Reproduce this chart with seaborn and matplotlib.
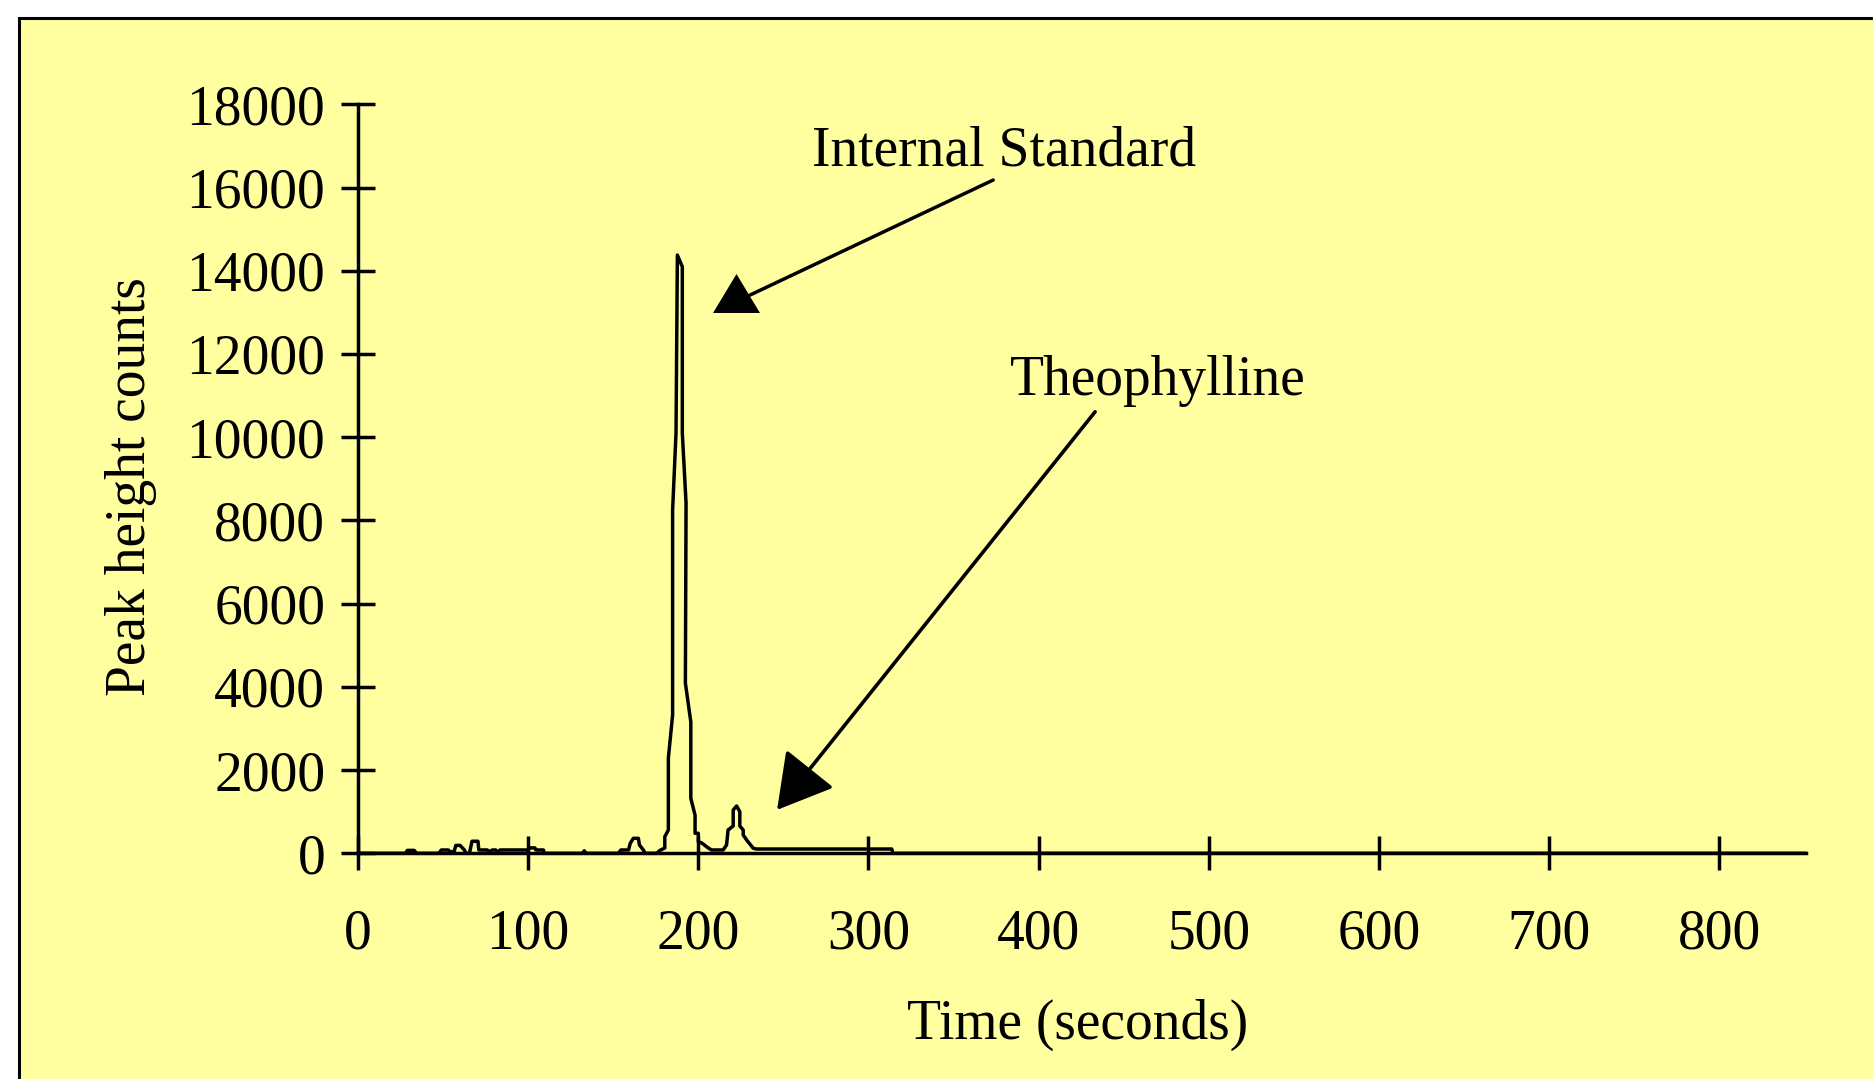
import matplotlib
matplotlib.use("Agg")
import matplotlib.pyplot as plt
from matplotlib.patches import Rectangle
import seaborn as sns
import pandas as pd

# ---------------- data ----------------
time_s = [0, 28, 29, 33, 34.5,
          47.5, 49, 53, 54, 56.5, 57.5, 60, 62.5, 63.5,
          65.5, 67, 70.5, 71, 76, 77, 79, 81, 82, 83.5, 100, 101, 104, 104.5, 109, 109.5,
          132, 133, 134,
          153, 154.5, 159, 160, 161.8, 164.8, 165.4, 167.7, 168.7,
          175.6, 177.3, 180.3, 180.3, 182.4, 182.4, 184.9, 184.9, 186.9, 187.7,
          190.6, 190.6, 192.8, 192.4, 195.6, 195.6, 198.1, 198.1,
          200.0, 200.0, 202.0, 205.9, 207.8, 214.6, 216.6, 217.5, 220.5, 220.5,
          222.5, 224.4, 224.4, 226.4, 226.4, 228.4, 232.3, 234.3, 313.7, 314.4, 851]
counts = [0, 0, 70, 70, 0,
          0, 80, 80, 40, 40, 190, 190, 80, 0,
          0, 290, 290, 80, 80, 40, 80, 80, 20, 80, 80, 130, 130, 80, 80, 0,
          0, 60, 0,
          0, 80, 80, 240, 360, 360, 200, 80, 0,
          0, 67, 127, 399, 560, 2290, 3323, 8250, 10100, 14377,
          14096, 10100, 8418, 4092, 3157, 1322, 913, 481,
          481, 279, 248, 127, 80, 80, 200, 560, 656, 1040,
          1137, 1000, 656, 560, 440, 320, 120, 103, 103, 0, 0]

x_ticks = [0, 100, 200, 300, 400, 500, 600, 700, 800]
y_ticks = [0, 2000, 4000, 6000, 8000, 10000, 12000, 14000, 16000, 18000]

x_label = "Time (seconds)"
y_label = "Peak height counts"

# annotations (data coordinates)
is_label = "Internal Standard"
is_text_xy = (267, 16530)
is_line_start = (373.3, 16180)
is_line_end = (230.4, 13416)
is_head_xy = (221.9, 13476)

th_label = "Theophylline"
th_text_xy = (383, 11010)
th_arrow_start = (433.2, 10610)
th_arrow_tip = (246.3, 1044)

# ---------------- style ----------------
W, H = 1873, 1079
yellow = "#FFFFA0"
sns.set_theme(style="white")
plt.rcParams["font.family"] = ["Liberation Serif", "DejaVu Serif"]
plt.rcParams["axes.unicode_minus"] = False
fs = 40

fig = plt.figure(figsize=(W / 100, H / 100), dpi=100)
fig.patch.set_facecolor("white")
panel = Rectangle((19 / W, -0.1), 1.2, 1 - 18 / H + 0.1,
                  transform=fig.transFigure, facecolor=yellow,
                  edgecolor="black", lw=2.2, zorder=-10)
fig.add_artist(panel)

ax = fig.add_axes([358 / W, (H - 853.3) / H, 1448 / W, 749 / H])
ax.set_zorder(5)
ax.set_facecolor("none")
ax.patch.set_alpha(0)

df = pd.DataFrame({"t": time_s, "v": counts})
sns.lineplot(data=df, x="t", y="v", sort=False, estimator=None,
             color="black", lw=2.5, ax=ax, clip_on=False)

ax.set_xlim(0, 851)
ax.set_ylim(0, 18000)
ax.set_xticks(x_ticks)
ax.set_yticks(y_ticks)
ax.set_xticklabels([str(v) for v in x_ticks])
ax.set_yticklabels([str(v) for v in y_ticks])

for s in ["top", "right"]:
    ax.spines[s].set_visible(False)
for s in ["left", "bottom"]:
    ax.spines[s].set_color("black")
    ax.spines[s].set_linewidth(2.5)

ax.tick_params(axis="both", direction="inout", length=25, width=2.5,
               colors="black", labelsize=fs, bottom=True, left=True)
ax.tick_params(axis="x", pad=27)
ax.tick_params(axis="y", pad=11)

ax.set_xlabel(x_label, fontsize=fs, color="black")
ax.set_ylabel(y_label, fontsize=fs, color="black")
ax.xaxis.set_label_coords(0.497, -0.229)
ax.xaxis.label.set_verticalalignment("center")
ax.yaxis.set_label_coords(-0.157, 0.489)
ax.yaxis.label.set_verticalalignment("center")

# Internal standard annotation: line + upright triangle head
ax.text(*is_text_xy, is_label, fontsize=fs, ha="left", va="baseline", color="black")
ax.annotate("", xy=is_line_end, xytext=is_line_start,
            arrowprops=dict(arrowstyle="-", lw=2.5, color="black",
                            shrinkA=0, shrinkB=0))
tri = [(0, 0.83), (-1, -0.83), (1, -0.83), (0, 0.83)]
ax.plot([is_head_xy[0]], [is_head_xy[1]], marker=tri, ms=33.8,
        color="black", mec="black", mew=0, ls="none", clip_on=False)

# Theophylline annotation
ax.text(*th_text_xy, th_label, fontsize=fs, ha="left", va="baseline", color="black")
ax.annotate("", xy=th_arrow_tip, xytext=th_arrow_start,
            arrowprops=dict(arrowstyle="-|>,head_length=3.4,head_width=1.95",
                            mutation_scale=10, lw=2.6, color="black",
                            shrinkA=0, shrinkB=0))

fig.savefig("out.png", dpi=100, facecolor=fig.get_facecolor())
